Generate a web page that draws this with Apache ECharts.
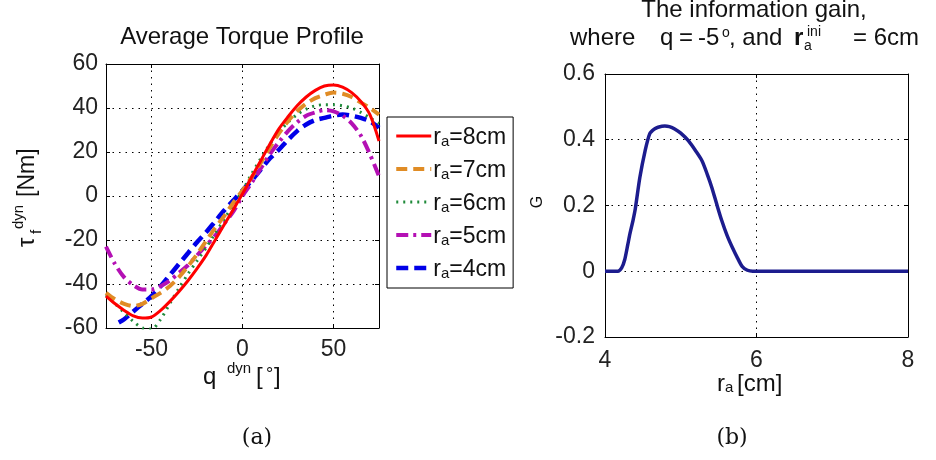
<!DOCTYPE html>
<html>
<head>
<meta charset="utf-8">
<script src="https://cdn.jsdelivr.net/npm/echarts@6/dist/echarts.min.js"></script>
<style>
  html, body { margin: 0; padding: 0; background: #fff; }
  #chart { width: 936px; height: 460px; }
</style>
</head>
<body>
<div id="chart"></div>
<script>
// ---- (a) average torque profile: joint angle q (deg) vs torque (Nm) ----
const angles = [-75, -70, -65, -60, -55, -50, -45, -40, -35, -30, -25, -20, -15, -10, -5, 0,
                5, 10, 15, 20, 25, 30, 35, 40, 45, 50, 55, 60, 65, 70, 75];
const torque8cm = [-45.5, -49, -52, -54.5, -55.5, -55, -52, -48, -43.5, -38.5, -33, -27, -20, -13, -6, 1,
                   8.5, 16, 23.5, 30.5, 36, 41, 45, 48, 50, 50.5, 49.5, 47, 43, 37, 25];
const torque7cm = [-44, -47, -49, -50, -49, -46.5, -44, -41, -37, -32, -26.5, -20.5, -14.5, -9, -3, 2.5,
                   8.5, 15, 22, 28.5, 34, 38.5, 42, 44.5, 46, 47, 46.5, 45, 42.5, 40, 37];
const torque6cm = [-45, -49, -53, -57, -60, -60.5, -56, -49, -42, -35.5, -29.5, -23.5, -17, -10.5, -4, 2.5,
                   10, 17, 23.5, 29, 33.5, 37, 39.5, 41, 41.5, 41.5, 41, 40, 38, 35.5, 33];
const torque5cm = [-23, -31, -37, -40.5, -42.5, -42.5, -41, -38.5, -35, -31.5, -27, -22.5, -18, -12.5, -7, 0,
                   6, 12.5, 19, 24.5, 29.5, 33.5, 36.5, 38, 39, 38.5, 36.5, 33, 27.5, 19, 9];
const angles4cm = [-68, -65, -60, -55, -50, -45, -40, -35, -30, -25, -20, -15, -10, -5, 0,
                   5, 10, 15, 20, 25, 30, 35, 40, 45, 50, 55, 60, 65, 70, 75];
const torque4cm = [-57.5, -56, -52.5, -49, -45.5, -41, -36, -31, -26, -21, -16.5, -11.5, -6.5, -2, 2.5,
                   7, 12, 17, 21, 25.5, 29.5, 32.5, 34.5, 35.5, 36.5, 37, 36.5, 35.5, 34, 31];
const radiusLabels = ['8cm', '7cm', '6cm', '5cm', '4cm'];
const qTicks = [-50, 0, 50];

// ---- (b) information gain G vs arm radius r_a (cm) ----
const radius = [4.0, 4.1, 4.17, 4.22, 4.26, 4.3, 4.33, 4.37, 4.4, 4.46, 4.53, 4.59, 4.65, 4.7, 4.79, 4.85,
                4.92, 5.0, 5.1, 5.2, 5.28, 5.35, 5.41, 5.48, 5.54, 5.61, 5.68, 5.75, 5.81, 5.88, 5.95,
                6.5, 7.0, 7.5, 8.0];
const gain = [0, 0, 0, 0.01, 0.035, 0.08, 0.115, 0.155, 0.19, 0.285, 0.367, 0.418, 0.432, 0.438, 0.442, 0.44,
              0.433, 0.42, 0.397, 0.365, 0.336, 0.295, 0.255, 0.2, 0.155, 0.11, 0.073, 0.04, 0.015, 0.003, 0,
              0, 0, 0, 0];

const SANS = '"Liberation Sans", Arial, Helvetica, sans-serif';
const zip = (xs, ys) => xs.map((x, i) => [x, ys[i]]);

const chart = echarts.init(document.getElementById('chart'), null, { renderer: 'canvas' });

const dotted = { color: '#000', width: 1, type: [1.5, 5] };
const tickLabel = { color: '#222', fontFamily: SANS, fontSize: 23 };

function frameAxis(gridIndex, position, min, max, extra) {
  return Object.assign({
    type: 'value', gridIndex, position, min, max,
    axisLine: { show: true, onZero: false, lineStyle: { color: '#000', width: 1 } },
    axisTick: { show: true, inside: true, length: 4, lineStyle: { color: '#000' } },
    axisLabel: { show: false },
    splitLine: { show: false }
  }, extra || {});
}

// text helper: place by baseline (canvas draws with middle baseline)
function txt(str, x, baseline, size, opts) {
  opts = opts || {};
  return {
    type: 'text', x: x, y: baseline - 0.35 * size,
    style: {
      text: str, font: (opts.weight || 'normal') + ' ' + size + 'px ' + (opts.family || SANS),
      fill: opts.fill || '#111', align: opts.align || 'left', verticalAlign: 'middle'
    },
    silent: true
  };
}

const seriesStyles = [
  { color: '#ff0000', width: 3, type: 'solid' },
  { color: '#e08c25', width: 4, type: [11, 6] },
  { color: '#1f8a3a', width: 3, type: [2, 5] },
  { color: '#b410b4', width: 4, type: [12, 5, 3, 5] },
  { color: '#0000e8', width: 4.5, type: [12, 6] }
];
const torqueData = [
  zip(angles, torque8cm), zip(angles, torque7cm), zip(angles, torque6cm),
  zip(angles, torque5cm), zip(angles4cm, torque4cm)
];

const series = radiusLabels.map((lab, i) => ({
  name: lab, type: 'line', xAxisIndex: 0, yAxisIndex: 0,
  data: torqueData[i], showSymbol: false, symbol: 'none', smooth: 0.3, clip: true,
  lineStyle: seriesStyles[i], itemStyle: { color: seriesStyles[i].color },
  z: 10 - i
}));
series.push({
  name: 'G', type: 'line', xAxisIndex: 2, yAxisIndex: 2,
  data: zip(radius, gain), showSymbol: false, symbol: 'none', smooth: 0.25, clip: true,
  lineStyle: { color: '#1c1c8e', width: 3.5 }, itemStyle: { color: '#1c1c8e' }
});

const option = {
  backgroundColor: '#fff',
  animation: false,
  grid: [
    { left: 106, top: 64, width: 273, height: 264, containLabel: false },
    { left: 605, top: 74, width: 303, height: 263, containLabel: false }
  ],
  xAxis: [
    frameAxis(0, 'bottom', -75, 75, {
      axisTick: { show: true, inside: true, length: 4, customValues: qTicks, lineStyle: { color: '#000' } },
      axisLabel: { show: true, customValues: qTicks, margin: 10, ...tickLabel },
      splitLine: { show: true, lineStyle: dotted }
    }),
    frameAxis(0, 'top', -75, 75, {
      axisTick: { show: true, inside: true, length: 4, customValues: qTicks, lineStyle: { color: '#000' } }
    }),
    frameAxis(1, 'bottom', 4, 8, {
      interval: 2,
      axisLabel: { show: true, margin: 12, ...tickLabel },
      splitLine: { show: true, lineStyle: dotted }
    }),
    frameAxis(1, 'top', 4, 8, { interval: 2 })
  ],
  yAxis: [
    frameAxis(0, 'left', -60, 60, {
      interval: 20,
      axisLabel: { show: true, margin: 8, ...tickLabel },
      splitLine: { show: true, lineStyle: dotted }
    }),
    frameAxis(0, 'right', -60, 60, { interval: 20 }),
    frameAxis(1, 'left', -0.2, 0.6, {
      interval: 0.2,
      axisLabel: { show: true, margin: 10, ...tickLabel,
                   formatter: v => (Math.abs(v) < 1e-9 ? '0' : String(+v.toFixed(1))) },
      splitLine: { show: true, lineStyle: dotted }
    }),
    frameAxis(1, 'right', -0.2, 0.6, { interval: 0.2 })
  ],
  legend: {
    data: radiusLabels,
    orient: 'vertical',
    left: 387, top: 117,
    padding: [9, 7, 7, 7],
    itemGap: 10,
    itemWidth: 35, itemHeight: 14,
    backgroundColor: '#fff',
    borderColor: '#000', borderWidth: 1, borderRadius: 0,
    selectedMode: false,
    itemStyle: { opacity: 0 },
    lineStyle: { width: 'inherit', type: 'inherit' },
    formatter: name => '{r|r}{a|a}{t|=' + name + '}',
    textStyle: {
      fontFamily: SANS, color: '#111', padding: [0, 0, 0, -3],
      rich: {
        r: { fontFamily: SANS, fontSize: 23, lineHeight: 26, verticalAlign: 'bottom', color: '#111' },
        a: { fontFamily: SANS, fontSize: 15, lineHeight: 20, verticalAlign: 'bottom', color: '#111' },
        t: { fontFamily: SANS, fontSize: 23, lineHeight: 26, verticalAlign: 'bottom', color: '#111' }
      }
    }
  },
  graphic: [
    // (a) title and axis names
    txt('Average Torque Profile', 242, 46, 24, { align: 'center' }),
    txt('q', 203, 386, 24),
    txt('dyn', 227, 374, 15),
    txt('[', 256, 386, 24),
    txt('\u00b0', 266, 381, 18),
    txt(']', 274, 386, 24),
    {
      type: 'group', x: 36, y: 196, rotation: Math.PI / 2, silent: true,
      children: [
        txt('\u03c4', -51, 0, 24),
        txt('f', -38, 6, 15),
        txt('dyn', -33, -12, 15),
        txt('[Nm]', -1, 0, 23)
      ]
    },
    // (b) title and axis names
    txt('The information gain,', 754, 19, 24, { align: 'center' }),
    txt('where', 570, 47, 24),
    txt('q', 660, 47, 24),
    txt('=', 679, 47, 24),
    txt('-5', 698, 47, 24),
    txt('o', 722, 38, 14),
    txt(', and', 729, 47, 24),
    txt('r', 794, 47, 24, { weight: 'bold' }),
    txt('a', 804, 51, 14),
    txt('ini', 807, 37, 14),
    txt('= 6cm', 853, 47, 24),
    txt('r', 717, 393, 24),
    txt('a', 725, 393, 15),
    txt('[cm]', 737, 393, 24),
    {
      type: 'text', x: 538, y: 202, rotation: Math.PI / 2, silent: true,
      style: { text: 'G', font: 'normal 16px ' + SANS, fill: '#111', align: 'center', verticalAlign: 'middle' }
    },
    // panel captions
    txt('(a)', 257, 446, 22, { align: 'center', family: '"DejaVu Serif", serif' }),
    txt('(b)', 732, 446, 22, { align: 'center', family: '"DejaVu Serif", serif' })
  ],
  series: series
};

chart.setOption(option);
</script>
</body>
</html>
